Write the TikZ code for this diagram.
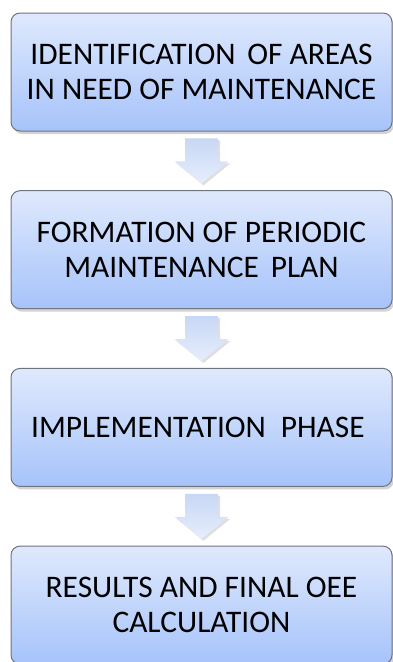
\documentclass[tikz,border=0pt]{standalone}
\usepackage{fontspec}
\setmainfont{Carlito}
\usetikzlibrary{calc,shadows}
\definecolor{boxtop}{HTML}{DFE9FD}
\definecolor{boxbottom}{HTML}{A6C3FA}
\definecolor{boxline}{HTML}{6E7482}
\definecolor{arrowtop}{HTML}{C8D7F5}
\definecolor{arrowbottom}{HTML}{E6EEFC}
\tikzstyle{phase} = [rectangle, rounded corners=9pt, draw=boxline, line width=1pt, top color=boxtop, bottom color=boxbottom, text centered, align=center, minimum height=118pt, minimum width=381pt, font=\fontsize{31.4}{35}\selectfont, drop shadow={opacity=0.35, shadow xshift=2pt, shadow yshift=-3pt}]
\tikzstyle{blockarrow} = [top color=arrowtop, bottom color=arrowbottom, drop shadow={opacity=0.25, shadow xshift=2pt, shadow yshift=-2pt}]

\begin{document}
\begin{tikzpicture}[x=1pt, y=1pt, node distance=177.7pt]
            \useasboundingbox (0,0) rectangle (393,-662);
            \node (ph1) [phase] at (201.5,-72) {
                IDENTIFICATION\hspace{0.15em} OF AREAS\\
                IN NEED OF MAINTENANCE
            };
            \node (ph2) [phase, below of = ph1] {
                FORMATION OF PERIODIC\\
                MAINTENANCE\hspace{0.15em} PLAN
            };
            \node (ph3) [phase, below of = ph2] {
                IMPLEMENTATION\hspace{0.25em} PHASE
            };
            \node (ph4) [phase, below of = ph3] {
                RESULTS AND FINAL OEE\\
                CALCULATION
            };
            % midpoints of the gaps, arrows are drawn around them
            \coordinate (a1) at ($(ph1.south)!0.5!(ph2.north)$);
            \coordinate (a2) at ($(ph2.south)!0.5!(ph3.north)$);
            \coordinate (a3) at ($(ph3.south)!0.5!(ph4.north)$);
            \path [blockarrow] ($(a1)+(-16.5,22.5)$) -- ++(33,0) -- ++(0,-23) -- ++(10.5,0) -- ++(-27,-22) -- ++(-27,22) -- ++(10.5,0) -- cycle;
            \path [blockarrow] ($(a2)+(-16.5,22.5)$) -- ++(33,0) -- ++(0,-23) -- ++(10.5,0) -- ++(-27,-22) -- ++(-27,22) -- ++(10.5,0) -- cycle;
            \path [blockarrow] ($(a3)+(-16.5,22.5)$) -- ++(33,0) -- ++(0,-23) -- ++(10.5,0) -- ++(-27,-22) -- ++(-27,22) -- ++(10.5,0) -- cycle;
        \end{tikzpicture}
\end{document}
